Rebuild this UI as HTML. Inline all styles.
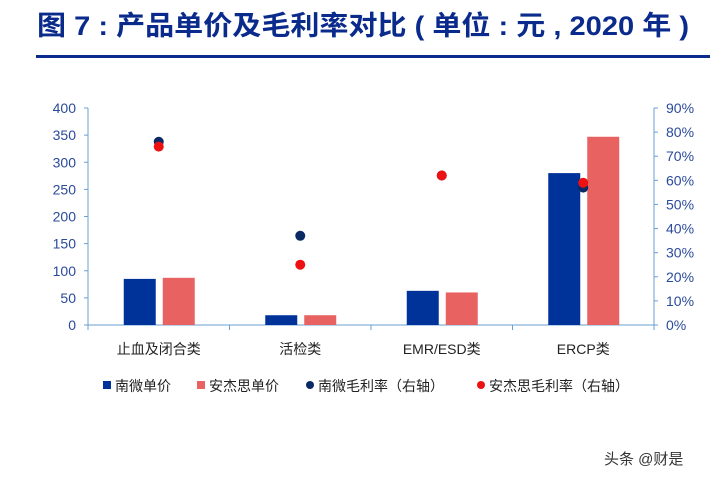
<!DOCTYPE html>
<html><head><meta charset="utf-8">
<style>
body{margin:0;width:717px;height:481px;background:#fff;overflow:hidden;font-family:"Liberation Sans","Noto Sans CJK SC",sans-serif;}
#rule{position:absolute;left:36px;top:55px;width:674px;height:3px;background:#0a2b8c;}
#wm{position:absolute;left:604px;top:448px;font-size:15px;color:#333;}
</style></head><body>
<svg width="717" height="50" style="position:absolute;left:0;top:0">
<text x="37" y="35" textLength="652" lengthAdjust="spacingAndGlyphs" font-size="27" font-weight="bold" fill="#0a2b8c">图 7 : 产品单价及毛利率对比 ( 单位 : 元 , 2020 年 )</text>
</svg>
<div id="rule"></div>
<svg id="chart" width="717" height="481" style="position:absolute;left:0;top:0"></svg>
<div id="wm">头条 @财是</div>
<script>
const categories=["止血及闭合类","活检类","EMR/ESD类","ERCP类"];
const nanweiPrice=[85,18,63,280];
const anjiesiPrice=[87,18,60,347];
const nanweiMargin=[76,37,62,57];
const anjiesiMargin=[74,25,62,59];
const leftTicks=[0,50,100,150,200,250,300,350,400];
const rightTicks=[0,10,20,30,40,50,60,70,80,90];
const svg=document.getElementById('chart');
const NS='http://www.w3.org/2000/svg';
const X0=88,X1=654,Y0=325,Y1=108;
const yL=v=>Y0-(v/400)*(Y0-Y1);
const yR=v=>Y0-(v/90)*(Y0-Y1);
const band=(X1-X0)/categories.length;
const xc=i=>X0+band*(i+0.5);
function mk(t,a){const e=document.createElementNS(NS,t);for(const k in a)e.setAttribute(k,a[k]);svg.appendChild(e);return e;}
const axc='#6a9fd0',tc='#2a4a9a';
let e;
e=mk('line',{x1:X0,y1:Y1,x2:X0,y2:Y0,stroke:axc});


e=mk('line',{x1:X1,y1:Y1,x2:X1,y2:Y0,stroke:axc});


e=mk('line',{x1:X0,y1:Y0,x2:X1,y2:Y0,stroke:axc});


leftTicks.forEach(v=>{
 mk('line',{x1:X0-4,y1:yL(v),x2:X0,y2:yL(v),stroke:axc});
 e=mk('text',{x:X0-12,y:yL(v)+5,'text-anchor':'end','font-size':14,fill:tc});e.textContent=v;
 
 
});
rightTicks.forEach(v=>{
 mk('line',{x1:X1,y1:yR(v),x2:X1+4,y2:yR(v),stroke:axc});
 e=mk('text',{x:X1+12,y:yR(v)+5,'font-size':14,fill:tc});e.textContent=v+'%';
 
 
});
for(let i=0;i<=categories.length;i++){mk('line',{x1:X0+band*i,y1:Y0,x2:X0+band*i,y2:Y0+5,stroke:axc});}
categories.forEach((c,i)=>{
 e=mk('text',{x:xc(i),y:354,'text-anchor':'middle','font-size':14,fill:'#222'});e.textContent=c;
 
 
 e=mk('rect',{x:xc(i)-35,y:yL(nanweiPrice[i]),width:32,height:Y0-yL(nanweiPrice[i]),fill:'#003399'});
 
 
 e=mk('rect',{x:xc(i)+4,y:yL(anjiesiPrice[i]),width:32,height:Y0-yL(anjiesiPrice[i]),fill:'#e86262'});
 
 
});
categories.forEach((c,i)=>{
 e=mk('circle',{cx:xc(i),cy:yR(nanweiMargin[i]),r:5,fill:'#0a2a66'});
 
 
 e=mk('circle',{cx:xc(i),cy:yR(anjiesiMargin[i]),r:5,fill:'#ee1111'});
 
 
});
const leg=[['rect','#003399','南微单价',103],['rect','#e86262','安杰思单价',197],['circle','#0a2a66','南微毛利率（右轴）',306],['circle','#ee1111','安杰思毛利率（右轴）',477]];
leg.forEach(l=>{
 if(l[0]==='rect')e=mk('rect',{x:l[3],y:381,width:8,height:8,fill:l[1]});
 else e=mk('circle',{cx:l[3]+4,cy:385,r:4,fill:l[1]});
 
 
 e=mk('text',{x:l[3]+12,y:391,'font-size':14,fill:'#222'});e.textContent=l[2];
 
 
});
</script>
</body></html>
